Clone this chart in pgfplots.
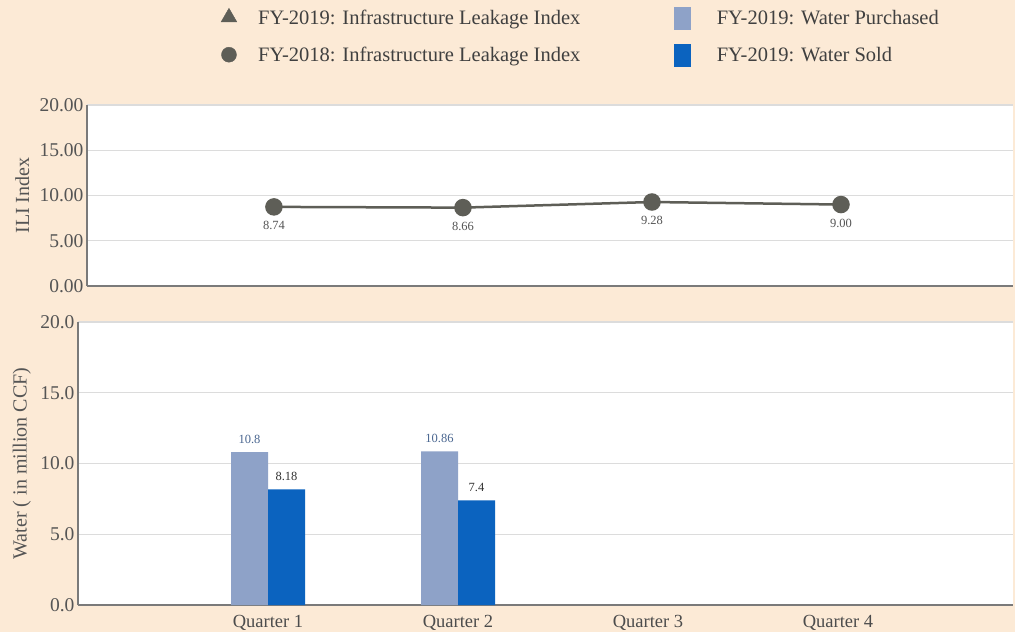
\documentclass[border=0pt]{standalone}
\usepackage{fontspec}
\setmainfont{Liberation Serif}
\usepackage{pgfplots}
\pgfplotsset{compat=1.18}

\definecolor{bgpeach}{HTML}{FCEAD6}
\definecolor{iligray}{HTML}{5E5E57}
\definecolor{purch}{HTML}{8EA2C8}
\definecolor{sold}{HTML}{0B63BF}
\definecolor{gridgray}{HTML}{DCDCDC}
\definecolor{axisgray}{HTML}{7A7A7A}
\definecolor{labelgray}{HTML}{555555}
\definecolor{purchlabel}{HTML}{4A6690}

\pgfplotsset{
  panel/.style={
    scale only axis,
    axis background/.style={fill=white},
    axis x line*=bottom, axis y line*=left,
    axis line style={axisgray, line width=2pt, -},
    ymajorgrids, grid style={gridgray, line width=1.2pt},
    major tick length=0pt,
    ymin=0, ymax=20, ytick={0,5,...,20},
    xtick={0,1,2,3},
    tick label style={font=\fontsize{19.5}{22}\selectfont, text=labelgray},
    /pgf/number format/assume math mode=true,
    clip=false,
  },
}

\begin{document}
\begin{tikzpicture}
\path[use as bounding box, fill=bgpeach] (0pt,0pt) rectangle (1015pt,632pt);

% Infrastructure Leakage Index panel
\begin{axis}[panel,
  at={(87pt,346pt)}, anchor=south west,
  width=926pt, height=181pt,
  xmin=-0.989, xmax=3.91,
  xticklabels={},
  yticklabel style={/pgf/number format/.cd, fixed, fixed zerofill, precision=2},
  ylabel={ILI Index},
  ylabel style={at={(axis description cs:-0.07,0.5)}, anchor=center,
    font=\fontsize{20}{24}\selectfont, text=labelgray},
  legend columns=2,
  legend cell align=left,
  legend style={draw=none, fill=none,
    at={(axis description cs:0.141,1.553)}, anchor=north west,
    font=\fontsize{20.5}{23}\selectfont, text=black!75,
    row sep=14pt,
    /tikz/every even column/.append style={column sep=92pt}},
]
\addlegendimage{legend image code/.code={
  \path (0pt,0pt) (35pt,0pt);
  \draw[iligray, mark=triangle*, mark size=9pt] plot coordinates {(8pt,1pt)};}}
\addlegendimage{legend image code/.code={
  \path (0pt,0pt) (40pt,0pt);
  \fill[purch] (0pt,-11pt) rectangle (16pt,11pt);}}
\addlegendimage{legend image code/.code={
  \path (0pt,0pt) (35pt,0pt);
  \draw[iligray, mark=*, mark size=7.5pt] plot coordinates {(8pt,0pt)};}}
\addlegendimage{legend image code/.code={
  \path (0pt,0pt) (40pt,0pt);
  \fill[sold] (0pt,-11pt) rectangle (16pt,11pt);}}
\legend{FY-2019: Infrastructure Leakage Index, FY-2019: Water Purchased,
        FY-2018: Infrastructure Leakage Index, FY-2019: Water Sold}

\addplot[forget plot, iligray, line width=2.5pt, mark=*, mark size=7.5pt,
  nodes near coords={\pgfmathprintnumber[fixed,fixed zerofill,precision=2]{\pgfplotspointmeta}},
  every node near coord/.append style={anchor=north, yshift=-10pt,
    font=\fontsize{12.5}{15}\selectfont, text=labelgray}]
  coordinates {(0,8.74) (1,8.66) (2,9.28) (3,9.00)};
\end{axis}

% Water purchased / sold panel
\begin{axis}[panel,
  at={(78pt,27pt)}, anchor=south west,
  width=935pt, height=283pt,
  xmin=-1, xmax=3.921,
  xticklabels={Quarter 1, Quarter 2, Quarter 3, Quarter 4},
  xticklabel style={font=\fontsize{18.5}{21}\selectfont, text=black!70, yshift=-7pt},
  yticklabel style={/pgf/number format/.cd, fixed, fixed zerofill, precision=1},
  ylabel={Water ( in million CCF)},
  ylabel style={at={(axis description cs:-0.06,0.5)}, anchor=center,
    font=\fontsize{20}{24}\selectfont, text=labelgray},
]
\addplot[ybar, bar width=37pt, bar shift=-18.5pt, fill=purch, draw=none,
  nodes near coords,
  every node near coord/.append style={anchor=south, yshift=5pt, xshift=-18.5pt,
    font=\fontsize{12.5}{15}\selectfont, text=purchlabel}]
  coordinates {(0,10.8) (1,10.86)};
\addplot[ybar, bar width=37pt, bar shift=18.5pt, fill=sold, draw=none,
  nodes near coords,
  every node near coord/.append style={anchor=south, yshift=5pt, xshift=18.5pt,
    font=\fontsize{12.5}{15}\selectfont, text=black!80}]
  coordinates {(0,8.18) (1,7.4)};
\end{axis}
\end{tikzpicture}
\end{document}
